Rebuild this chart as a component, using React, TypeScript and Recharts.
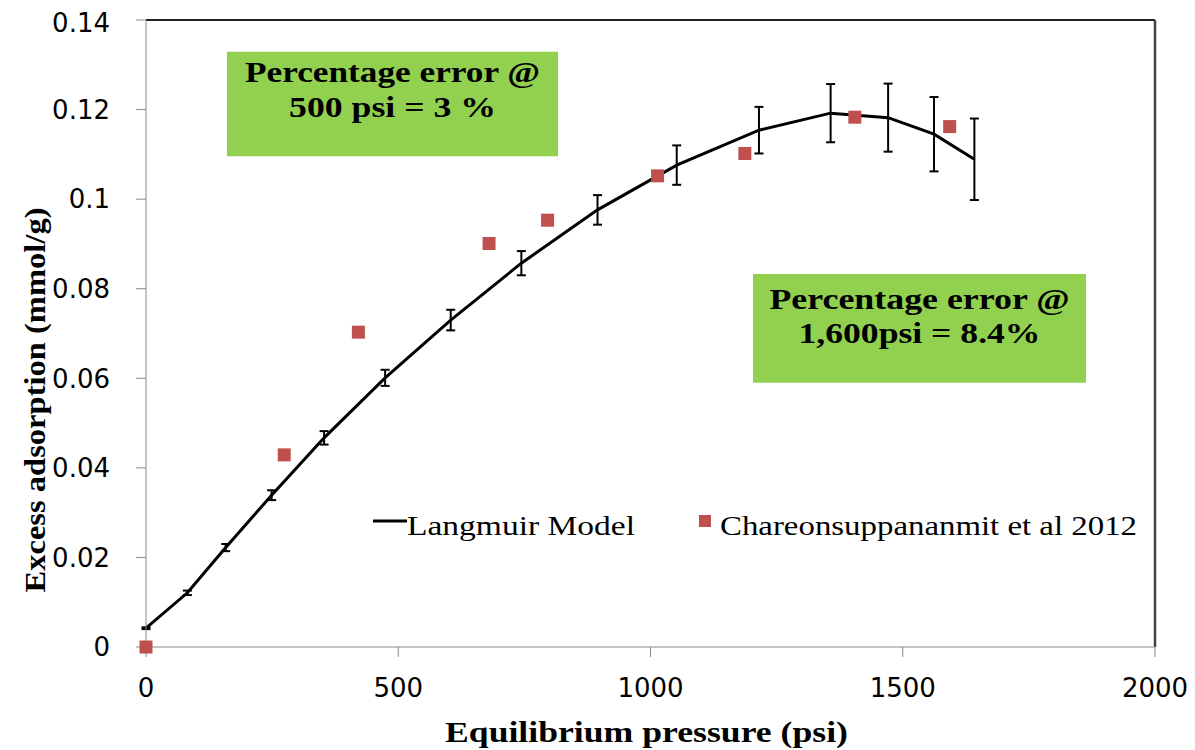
import React from 'react';
import {
  ComposedChart,
  Line,
  Scatter,
  XAxis,
  YAxis,
  ErrorBar,
  ReferenceLine,
  ReferenceArea,
  Legend,
} from 'recharts';

// Langmuir model (with error bars)
const modelPressure = [0, 82, 158, 249, 353, 474, 604, 744, 895, 1052, 1215, 1357, 1471, 1562, 1642];
const modelAdsorption = [0.0042, 0.0121, 0.0222, 0.0339, 0.0467, 0.0601, 0.073, 0.0857, 0.0976, 0.1076, 0.1154, 0.1192, 0.1182, 0.1145, 0.1089];
const modelError = [0.0002, 0.0005, 0.0008, 0.0011, 0.0015, 0.0018, 0.0023, 0.0027, 0.0033, 0.0044, 0.0052, 0.0065, 0.0076, 0.0083, 0.0091];

// Chareonsuppananmit et al 2012
const expPressure = [0, 274, 421, 680, 796, 1014, 1187, 1405, 1593];
const expAdsorption = [0, 0.0429, 0.0703, 0.0901, 0.0953, 0.1052, 0.1102, 0.1183, 0.1162];

const xTicks = [0, 500, 1000, 1500, 2000];
const yTicks = [0, 0.02, 0.04, 0.06, 0.08, 0.1, 0.12, 0.14];

const note1 = ['Percentage error @', '500 psi = 3 %'];
const note2 = ['Percentage error @', '1,600psi = 8.4%'];

const modelData = modelPressure.map((p, i) => ({ p, q: modelAdsorption[i], err: modelError[i] }));
const expData = expPressure.map((p, i) => ({ p, q: expAdsorption[i] }));

const SERIF = 'Liberation Serif';
const SANS = 'DejaVu Sans';
const AXIS_GREY = '#8a8a8a';

const serifStyle = { fontFamily: SERIF };

const Square = (props: any) => {
  const { cx, cy } = props;
  if (cx == null || cy == null) return null;
  return <rect x={cx - 6.5} y={cy - 6.5} width={13} height={13} fill="#C0504D" />;
};

const noteLabel = (lines: string[], dy: number[], widths: number[]) => (props: any) => {
  const vb = props.viewBox || {};
  const cx = vb.x + vb.width / 2;
  return (
    <g>
      {lines.map((t, i) => (
        <text
          key={i}
          x={cx}
          y={vb.y + dy[i]}
          textAnchor="middle"
          style={serifStyle}
          fontWeight="bold"
          fontSize={29}
          fill="#000"
          textLength={widths[i]}
          lengthAdjust="spacingAndGlyphs"
        >
          {t}
        </text>
      ))}
    </g>
  );
};

const XTitle = (props: any) => {
  const vb = props.viewBox || {};
  return (
    <text
      x={vb.x + vb.width / 2 - 4}
      y={vb.y + 95}
      textAnchor="middle"
      style={serifStyle}
      fontWeight="bold"
      fontSize={29}
      fill="#000"
      textLength={403}
      lengthAdjust="spacingAndGlyphs"
    >
      Equilibrium pressure (psi)
    </text>
  );
};

const YTitle = () => (
  <text
    transform="translate(37, 392) rotate(-90)"
    x={0}
    y={0}
    textAnchor="middle"
    style={serifStyle}
    fontWeight="bold"
    fontSize={29}
    fill="#000"
    textLength={385}
    lengthAdjust="spacingAndGlyphs"
  >
    Excess adsorption (mmol/g)
  </text>
);

const LegendBox = () => (
  <svg width={800} height={40} style={{ overflow: 'visible' }}>
    <line x1={0} y1={20} x2={34} y2={20} stroke="#000" strokeWidth={3} />
    <text x={34} y={34} style={serifStyle} fontSize={28} fill="#000" textLength={228} lengthAdjust="spacingAndGlyphs">
      Langmuir Model
    </text>
    <rect x={326} y={14} width={12} height={12} fill="#C0504D" />
    <text x={347} y={34} style={serifStyle} fontSize={28} fill="#000" textLength={417} lengthAdjust="spacingAndGlyphs">
      Chareonsuppananmit et al 2012
    </text>
  </svg>
);

export default function App() {
  return (
    <ComposedChart width={1180} height={740} margin={{ top: 12, right: 33, left: 0, bottom: 0 }}>
      <XAxis
        type="number"
        dataKey="p"
        domain={[0, 2000]}
        ticks={xTicks}
        height={101}
        stroke={AXIS_GREY}
        tickSize={10}
        tickMargin={22}
        tick={{ fontFamily: SANS, fontSize: 26, fill: '#000' }}
        label={{ content: XTitle }}
      />
      <YAxis
        type="number"
        dataKey="q"
        domain={[0, 0.14]}
        ticks={yTicks}
        width={138}
        stroke={AXIS_GREY}
        tickSize={10}
        tickMargin={26}
        tick={{ fontFamily: SANS, fontSize: 26, fill: '#000' }}
        label={{ content: YTitle }}
      />
      <ReferenceLine y={0.14} stroke="#222" strokeWidth={2} />
      <ReferenceLine x={2000} stroke="#444" strokeWidth={2.5} />
      <ReferenceArea
        x1={160.6}
        x2={816.7}
        y1={0.1096}
        y2={0.1329}
        fill="#92D050"
        fillOpacity={1}
        stroke="none"
        label={{ content: noteLabel(note1, [30, 65], [295, 207]) }}
      />
      <ReferenceArea
        x1={1203.2}
        x2={1863.2}
        y1={0.059}
        y2={0.0833}
        fill="#92D050"
        fillOpacity={1}
        stroke="none"
        label={{ content: noteLabel(note2, [35, 69], [300, 242]) }}
      />
      <Line
        data={modelData}
        dataKey="q"
        type="linear"
        stroke="#000"
        strokeWidth={3}
        dot={false}
        isAnimationActive={false}
      >
        <ErrorBar dataKey="err" direction="y" width={4.5} stroke="#000" strokeWidth={2} isAnimationActive={false} />
      </Line>
      <Scatter data={expData} dataKey="q" shape={Square} isAnimationActive={false} />
      <Legend
        layout="horizontal"
        verticalAlign="middle"
        align="center"
        wrapperStyle={{ left: 365, top: 493, width: 800, height: 40 }}
        content={LegendBox}
      />
    </ComposedChart>
  );
}
